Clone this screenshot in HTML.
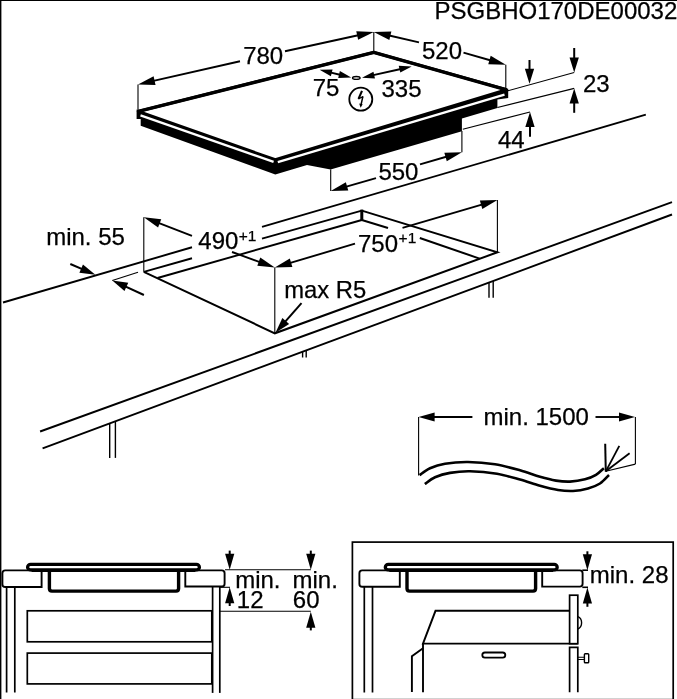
<!DOCTYPE html>
<html><head><meta charset="utf-8"><title>PSGBHO170DE00032</title>
<style>
html,body{margin:0;padding:0;background:#fff;}
svg{display:block;will-change:transform;}
text{font-family:"Liberation Sans",Arial,sans-serif;fill:#000;stroke:#000;stroke-width:0.25px;}
</style></head><body>
<svg width="677" height="699" viewBox="0 0 677 699">
<rect width="677" height="699" fill="#fff"/>
<line x1="0.7" y1="0" x2="0.7" y2="699" stroke="#000" stroke-width="1.4" stroke-linecap="butt"/>
<line x1="0" y1="0.5" x2="677" y2="0.5" stroke="#000" stroke-width="1.0" stroke-linecap="butt"/>
<text x="677.3" y="19.4" font-size="24" text-anchor="end" >PSGBHO170DE00032</text>
<polygon points="136.6,109.5 136.6,119 140.7,119 140.7,125.7 275.3,174.5 307,165 330.6,169.5 461.9,131.3 461.9,118.5 497.4,107.9 497.4,99.5 508.2,98 508.2,88.8 275.3,157" fill="#000" stroke="none" stroke-width="0" stroke-linejoin="miter"/>
<polygon points="138.3,111.3 373.8,52.3 506.6,89.7 275.3,159.7" fill="#fff" stroke="#000" stroke-width="2.9" stroke-linejoin="round"/>
<path d="M138.3,111.39999999999999 L373.8,52.449999999999996 L506.6,89.8" fill="none" stroke="#000" stroke-width="3.4" stroke-linecap="butt" stroke-linejoin="round"/>
<polyline points="140.5,115.4 273.6,161.9" fill="none" stroke="#fff" stroke-width="2.3"/><polyline points="277.8,162.2 504.5,94.6" fill="none" stroke="#fff" stroke-width="2.3"/>
<line x1="138" y1="84.4" x2="138" y2="110" stroke="#000" stroke-width="1.1" stroke-linecap="butt"/>
<line x1="373.8" y1="31.9" x2="373.8" y2="52" stroke="#000" stroke-width="1.1" stroke-linecap="butt"/>
<line x1="240" y1="61.2" x2="151.26" y2="81.38" stroke="#000" stroke-width="1.9" stroke-linecap="butt"/>
<polygon points="138,84.4 153.6,76.34 155.55,84.92" fill="#000" stroke="none" stroke-width="0" stroke-linejoin="miter"/>
<line x1="285" y1="51.2" x2="360.51" y2="34.79" stroke="#000" stroke-width="1.9" stroke-linecap="butt"/>
<polygon points="373.8,31.9 358.12,39.81 356.25,31.21" fill="#000" stroke="none" stroke-width="0" stroke-linejoin="miter"/>
<text x="263.2" y="64.1" font-size="24" text-anchor="middle" >780</text>
<line x1="505.8" y1="64.8" x2="505.8" y2="89" stroke="#000" stroke-width="1.1" stroke-linecap="butt"/>
<line x1="419" y1="42.4" x2="387.05" y2="34.98" stroke="#000" stroke-width="1.9" stroke-linecap="butt"/>
<polygon points="373.8,31.9 391.35,31.46 389.36,40.03" fill="#000" stroke="none" stroke-width="0" stroke-linejoin="miter"/>
<line x1="463.5" y1="52.6" x2="492.73" y2="61.03" stroke="#000" stroke-width="1.9" stroke-linecap="butt"/>
<polygon points="505.8,64.8 488.25,64.32 490.69,55.86" fill="#000" stroke="none" stroke-width="0" stroke-linejoin="miter"/>
<text x="442" y="58.6" font-size="24" text-anchor="middle" >520</text>
<ellipse cx="356.3" cy="77.9" rx="3.8" ry="1.4" fill="#eee" stroke="#000" stroke-width="1.3"/>
<line x1="330" y1="72.4" x2="341" y2="75.0" stroke="#000" stroke-width="1.9" stroke-linecap="butt"/>
<polygon points="319.6,69.8 332.57,69.38 330.91,76.18" fill="#000" stroke="none" stroke-width="0" stroke-linejoin="miter"/>
<polygon points="351.2,77.5 338.23,77.92 339.89,71.12" fill="#000" stroke="none" stroke-width="0" stroke-linejoin="miter"/>
<line x1="371" y1="75.6" x2="402" y2="68.8" stroke="#000" stroke-width="1.9" stroke-linecap="butt"/>
<polygon points="362,77.8 373.48,71.74 374.96,78.58" fill="#000" stroke="none" stroke-width="0" stroke-linejoin="miter"/>
<polygon points="411.7,66.4 400.3,72.62 398.73,65.79" fill="#000" stroke="none" stroke-width="0" stroke-linejoin="miter"/>
<text x="326" y="96.2" font-size="24" text-anchor="middle" >75</text>
<text x="401.5" y="96.8" font-size="24" text-anchor="middle" >335</text>
<circle cx="360.8" cy="99.2" r="11.5" fill="#fff" stroke="#000" stroke-width="1.8"/>
<line x1="362.0" y1="90.8" x2="358.5" y2="98.9" stroke="#000" stroke-width="2.1" stroke-linecap="butt"/>
<line x1="358.3" y1="98.8" x2="363.1" y2="96.7" stroke="#000" stroke-width="1.4" stroke-linecap="butt"/>
<line x1="362.9" y1="96.4" x2="361.1" y2="104.5" stroke="#000" stroke-width="1.5" stroke-linecap="butt"/>
<polygon points="360.6,107.8 359.2,103.4 362.7,104.2" fill="#000" stroke="none" stroke-width="0" stroke-linejoin="miter"/>
<line x1="330.7" y1="169.5" x2="330.7" y2="191" stroke="#000" stroke-width="1.1" stroke-linecap="butt"/>
<line x1="461.9" y1="131" x2="461.9" y2="152.2" stroke="#000" stroke-width="1.1" stroke-linecap="butt"/>
<line x1="376" y1="178.2" x2="343.79" y2="187.3" stroke="#000" stroke-width="1.9" stroke-linecap="butt"/>
<polygon points="330.7,191 345.86,182.14 348.26,190.61" fill="#000" stroke="none" stroke-width="0" stroke-linejoin="miter"/>
<line x1="420" y1="164.3" x2="448.83" y2="155.97" stroke="#000" stroke-width="1.9" stroke-linecap="butt"/>
<polygon points="461.9,152.2 446.79,161.14 444.35,152.69" fill="#000" stroke="none" stroke-width="0" stroke-linejoin="miter"/>
<text x="398.4" y="180.4" font-size="24" text-anchor="middle" >550</text>
<line x1="507" y1="91" x2="574.2" y2="72.5" stroke="#000" stroke-width="1.1" stroke-linecap="butt"/>
<line x1="497.4" y1="107.5" x2="574.2" y2="88.4" stroke="#000" stroke-width="1.1" stroke-linecap="butt"/>
<line x1="462.8" y1="129.3" x2="530" y2="112" stroke="#000" stroke-width="1.1" stroke-linecap="butt"/>
<line x1="529.5" y1="60" x2="529.5" y2="71.7" stroke="#000" stroke-width="2.0" stroke-linecap="butt"/>
<polygon points="529.5,83.7 524.85,68.7 534.15,68.7" fill="#000" stroke="none" stroke-width="0" stroke-linejoin="miter"/>
<line x1="574.2" y1="48" x2="574.2" y2="60.5" stroke="#000" stroke-width="2.0" stroke-linecap="butt"/>
<polygon points="574.2,72.5 569.55,57.5 578.85,57.5" fill="#000" stroke="none" stroke-width="0" stroke-linejoin="miter"/>
<line x1="574.2" y1="112.8" x2="574.2" y2="100.4" stroke="#000" stroke-width="2.0" stroke-linecap="butt"/>
<polygon points="574.2,88.4 578.85,103.4 569.55,103.4" fill="#000" stroke="none" stroke-width="0" stroke-linejoin="miter"/>
<line x1="530" y1="136.7" x2="530.0" y2="124.0" stroke="#000" stroke-width="2.0" stroke-linecap="butt"/>
<polygon points="530,112 534.65,127.0 525.35,127.0" fill="#000" stroke="none" stroke-width="0" stroke-linejoin="miter"/>
<text x="583" y="91.5" font-size="24" text-anchor="start" >23</text>
<text x="498" y="147.6" font-size="24" text-anchor="start" >44</text>
<line x1="3" y1="302.5" x2="192" y2="247.2742" stroke="#000" stroke-width="1.9" stroke-linecap="butt"/>
<line x1="262" y1="226.8202" x2="645.8" y2="114.7" stroke="#000" stroke-width="1.9" stroke-linecap="butt"/>
<line x1="40.1" y1="431.5" x2="672" y2="202.2" stroke="#000" stroke-width="1.9" stroke-linecap="butt"/>
<line x1="42.6" y1="448.3" x2="672" y2="214.5" stroke="#000" stroke-width="1.9" stroke-linecap="butt"/>
<line x1="109.7" y1="423.37235000000004" x2="109.7" y2="457.9" stroke="#000" stroke-width="1.4" stroke-linecap="butt"/>
<line x1="115.4" y1="421.2548" x2="115.4" y2="457.9" stroke="#000" stroke-width="1.4" stroke-linecap="butt"/>
<line x1="302.6" y1="351.71000000000004" x2="302.6" y2="357.5" stroke="#000" stroke-width="1.4" stroke-linecap="butt"/>
<line x1="306.2" y1="350.37260000000003" x2="306.2" y2="357.5" stroke="#000" stroke-width="1.4" stroke-linecap="butt"/>
<line x1="489" y1="282.4624" x2="489" y2="297.8" stroke="#000" stroke-width="1.4" stroke-linecap="butt"/>
<line x1="493.2" y1="280.9021" x2="493.2" y2="297.8" stroke="#000" stroke-width="1.4" stroke-linecap="butt"/>
<line x1="143.8" y1="271.8" x2="192" y2="258.27026" stroke="#000" stroke-width="1.9" stroke-linecap="butt"/>
<line x1="262" y1="238.62126" x2="361.8" y2="210.6" stroke="#000" stroke-width="1.9" stroke-linecap="butt"/>
<line x1="157.5" y1="278" x2="361.8" y2="220" stroke="#000" stroke-width="1.9" stroke-linecap="butt"/>
<line x1="361.8" y1="209.6" x2="361.8" y2="220.6" stroke="#000" stroke-width="3" stroke-linecap="butt"/>
<path d="M143.8,271.8 L274.8,333.3 L497.4,252.3 L361.8,210.6" fill="none" stroke="#000" stroke-width="2.0" stroke-linecap="butt" stroke-linejoin="miter"/>
<line x1="361.8" y1="220" x2="388" y2="228" stroke="#000" stroke-width="2.0" stroke-linecap="butt"/>
<line x1="419.8" y1="238.0" x2="479.6" y2="258.6" stroke="#000" stroke-width="2.0" stroke-linecap="butt"/>
<line x1="143.8" y1="217.2" x2="143.8" y2="271.8" stroke="#000" stroke-width="1.1" stroke-linecap="butt"/>
<line x1="274.8" y1="267.4" x2="274.8" y2="333.3" stroke="#000" stroke-width="1.1" stroke-linecap="butt"/>
<line x1="497.4" y1="200" x2="497.4" y2="252.3" stroke="#000" stroke-width="1.1" stroke-linecap="butt"/>
<line x1="192" y1="235.8" x2="156.49" y2="222.1" stroke="#000" stroke-width="1.9" stroke-linecap="butt"/>
<polygon points="143.8,217.2 161.24,219.22 158.08,227.43" fill="#000" stroke="none" stroke-width="0" stroke-linejoin="miter"/>
<line x1="232" y1="252" x2="262.0" y2="262.8" stroke="#000" stroke-width="1.9" stroke-linecap="butt"/>
<polygon points="274.8,267.4 257.31,265.78 260.29,257.5" fill="#000" stroke="none" stroke-width="0" stroke-linejoin="miter"/>
<text x="198.3" y="249" font-size="24" text-anchor="start" >490</text>
<text x="238.7" y="241.3" font-size="15.5" text-anchor="start" >+1</text>
<line x1="355" y1="243.6" x2="287.83" y2="263.7" stroke="#000" stroke-width="1.9" stroke-linecap="butt"/>
<polygon points="274.8,267.6 289.82,258.51 292.35,266.94" fill="#000" stroke="none" stroke-width="0" stroke-linejoin="miter"/>
<line x1="402.5" y1="227.9" x2="484.35" y2="203.84" stroke="#000" stroke-width="1.9" stroke-linecap="butt"/>
<polygon points="497.4,200 482.33,209.02 479.85,200.57" fill="#000" stroke="none" stroke-width="0" stroke-linejoin="miter"/>
<text x="358" y="251.7" font-size="24" text-anchor="start" >750</text>
<text x="398.6" y="243" font-size="15.5" text-anchor="start" >+1</text>
<text x="46.2" y="244.7" font-size="24" text-anchor="start" >min. 55</text>
<line x1="70.3" y1="264" x2="84.01" y2="269.9" stroke="#000" stroke-width="2.0" stroke-linecap="butt"/>
<polygon points="95.4,274.8 79.38,272.81 82.94,264.54" fill="#000" stroke="none" stroke-width="0" stroke-linejoin="miter"/>
<line x1="143.9" y1="295" x2="123.56" y2="285.6" stroke="#000" stroke-width="2.0" stroke-linecap="butt"/>
<polygon points="112.3,280.4 128.26,282.82 124.48,290.99" fill="#000" stroke="none" stroke-width="0" stroke-linejoin="miter"/>
<line x1="112.3" y1="280.4" x2="138" y2="272.3" stroke="#000" stroke-width="1.1" stroke-linecap="butt"/>
<text x="284.3" y="298.3" font-size="23.8" text-anchor="start" >max R5</text>
<line x1="301.5" y1="303.2" x2="283.7" y2="323.4" stroke="#000" stroke-width="2.0" stroke-linecap="butt"/>
<polygon points="275.5,332.7 282.37,318.1 289.12,324.05" fill="#000" stroke="none" stroke-width="0" stroke-linejoin="miter"/>
<line x1="418.6" y1="417" x2="418.6" y2="475.5" stroke="#000" stroke-width="1.1" stroke-linecap="butt"/>
<line x1="635.4" y1="417" x2="635.4" y2="464.1" stroke="#000" stroke-width="1.1" stroke-linecap="butt"/>
<line x1="472.4" y1="417" x2="431.4" y2="417.0" stroke="#000" stroke-width="1.9" stroke-linecap="butt"/>
<polygon points="418.6,417 434.6,412.4 434.6,421.6" fill="#000" stroke="none" stroke-width="0" stroke-linejoin="miter"/>
<line x1="595.5" y1="417" x2="622.2" y2="417.0" stroke="#000" stroke-width="1.9" stroke-linecap="butt"/>
<polygon points="635,417 619.0,421.6 619.0,412.4" fill="#000" stroke="none" stroke-width="0" stroke-linejoin="miter"/>
<text x="483.5" y="424.8" font-size="24" text-anchor="start" >min. 1500</text>
<path d="M419.6,475.2 C421.33,474.05 425.77,470.22 430,468.3 C434.23,466.38 438.67,464.75 445,463.7 C451.33,462.65 459.67,461.90 468,462 C476.33,462.10 486.33,462.92 495,464.3 C503.67,465.68 512.50,468.22 520,470.3 C527.50,472.38 534.00,475.08 540,476.8 C546.00,478.52 551.00,479.80 556,480.6 C561.00,481.40 565.17,481.82 570,481.6 C574.83,481.38 580.67,480.43 585,479.3 C589.33,478.17 592.85,476.65 596,474.8 C599.15,472.95 602.58,469.30 603.9,468.2" fill="none" stroke="#000" stroke-width="2.6" stroke-linecap="butt" stroke-linejoin="miter"/>
<path d="M424.8,484 C426.50,482.88 430.80,479.15 435,477.3 C439.20,475.45 444.17,473.90 450,472.9 C455.83,471.90 462.17,471.15 470,471.3 C477.83,471.45 488.67,472.42 497,473.8 C505.33,475.18 512.83,477.60 520,479.6 C527.17,481.60 533.67,484.07 540,485.8 C546.33,487.53 552.50,489.13 558,490 C563.50,490.87 568.00,491.25 573,491 C578.00,490.75 583.50,489.75 588,488.5 C592.50,487.25 596.50,485.75 600,483.5 C603.50,481.25 607.50,476.42 609,475" fill="none" stroke="#000" stroke-width="2.6" stroke-linecap="butt" stroke-linejoin="miter"/>
<line x1="605.8" y1="471.8" x2="605.2" y2="443.8" stroke="#000" stroke-width="2.0" stroke-linecap="butt"/>
<line x1="605.8" y1="471.3" x2="619.3" y2="445.9" stroke="#000" stroke-width="1.8" stroke-linecap="butt"/>
<line x1="605.8" y1="471.3" x2="629.6" y2="453.3" stroke="#000" stroke-width="1.8" stroke-linecap="butt"/>
<line x1="605.8" y1="471.3" x2="635.4" y2="464.1" stroke="#000" stroke-width="1.1" stroke-linecap="butt"/>
<path d="M41.6,570.4 L5.199999999999999,570.4 Q2.4,570.4 2.4,573.1999999999999 L2.4,584.2 Q2.4,587 5.199999999999999,587 L41.6,587 Z" fill="#fff" stroke="#000" stroke-width="1.9" stroke-linecap="butt" stroke-linejoin="miter"/>
<path d="M185.3,570.4 L221.79999999999998,570.4 Q224.6,570.4 224.6,573.1999999999999 L224.6,583.7 Q224.6,586.5 221.79999999999998,586.5 L185.3,586.5 Z" fill="#fff" stroke="#000" stroke-width="1.9" stroke-linecap="butt" stroke-linejoin="miter"/>
<path d="M49.4,571 L49.4,588.6 Q49.4,591.1 51.9,591.1 L176.1,591.1 Q178.6,591.1 178.6,588.6 L178.6,571" fill="none" stroke="#000" stroke-width="3.4" stroke-linecap="butt" stroke-linejoin="miter"/>
<rect x="27.6" y="564.4" width="171.8" height="5.5" rx="3" ry="2.75" fill="#fff" stroke="#000" stroke-width="3.3"/>
<line x1="31.6" y1="570.6" x2="195.4" y2="570.6" stroke="#000" stroke-width="2.6" stroke-linecap="butt"/>
<line x1="6.6" y1="587" x2="6.6" y2="692.5" stroke="#000" stroke-width="1.7" stroke-linecap="butt"/>
<line x1="14.8" y1="587" x2="14.8" y2="692.5" stroke="#000" stroke-width="1.7" stroke-linecap="butt"/>
<line x1="212.6" y1="586.7" x2="212.6" y2="692.9" stroke="#000" stroke-width="1.7" stroke-linecap="butt"/>
<line x1="219.8" y1="586.7" x2="219.8" y2="692.9" stroke="#000" stroke-width="1.7" stroke-linecap="butt"/>
<rect x="27.3" y="610.8" width="184.5" height="31" fill="none" stroke="#000" stroke-width="1.7"/>
<rect x="27.3" y="653.1" width="184.5" height="30.8" fill="none" stroke="#000" stroke-width="1.7"/>
<line x1="225" y1="569.8" x2="310.8" y2="569.8" stroke="#000" stroke-width="1.1" stroke-linecap="butt"/>
<line x1="219" y1="611.3" x2="310.8" y2="611.3" stroke="#000" stroke-width="1.1" stroke-linecap="butt"/>
<line x1="220" y1="587.3" x2="230" y2="587.3" stroke="#000" stroke-width="1.1" stroke-linecap="butt"/>
<line x1="229.7" y1="550.6" x2="229.7" y2="557.0" stroke="#000" stroke-width="2.0" stroke-linecap="butt"/>
<polygon points="229.7,569.8 225.1,553.8 234.3,553.8" fill="#000" stroke="none" stroke-width="0" stroke-linejoin="miter"/>
<line x1="229.7" y1="606" x2="229.7" y2="600.1" stroke="#000" stroke-width="2.0" stroke-linecap="butt"/>
<polygon points="229.7,587.3 234.3,603.3 225.1,603.3" fill="#000" stroke="none" stroke-width="0" stroke-linejoin="miter"/>
<line x1="310.8" y1="550.6" x2="310.8" y2="557.0" stroke="#000" stroke-width="2.0" stroke-linecap="butt"/>
<polygon points="310.8,569.8 306.2,553.8 315.4,553.8" fill="#000" stroke="none" stroke-width="0" stroke-linejoin="miter"/>
<line x1="310.8" y1="630.4" x2="310.8" y2="624.6" stroke="#000" stroke-width="2.0" stroke-linecap="butt"/>
<polygon points="310.8,611.8 315.4,627.8 306.2,627.8" fill="#000" stroke="none" stroke-width="0" stroke-linejoin="miter"/>
<text x="235.2" y="587.9" font-size="24" text-anchor="start" >min.</text>
<text x="236.8" y="607.8" font-size="24" text-anchor="start" >12</text>
<text x="292.5" y="587.9" font-size="24" text-anchor="start" >min.</text>
<text x="292.8" y="607.8" font-size="24" text-anchor="start" >60</text>
<rect x="352.4" y="542.1" width="320.8" height="157.57" fill="none" stroke="#000" stroke-width="1.7"/>
<path d="M399.8,570.4 L362.2,570.4 Q359.4,570.4 359.4,573.1999999999999 L359.4,583.9000000000001 Q359.4,586.7 362.2,586.7 L399.8,586.7 Z" fill="#fff" stroke="#000" stroke-width="1.9" stroke-linecap="butt" stroke-linejoin="miter"/>
<path d="M542.2,570.4 L579.8000000000001,570.4 Q582.6,570.4 582.6,573.1999999999999 L582.6,583.8000000000001 Q582.6,586.6 579.8000000000001,586.6 L542.2,586.6 Z" fill="#fff" stroke="#000" stroke-width="1.9" stroke-linecap="butt" stroke-linejoin="miter"/>
<path d="M407,571 L407,588.6 Q407,591.1 409.5,591.1 L533.1,591.1 Q535.6,591.1 535.6,588.6 L535.6,571" fill="none" stroke="#000" stroke-width="3.4" stroke-linecap="butt" stroke-linejoin="miter"/>
<rect x="385.3" y="564.4" width="171.90000000000003" height="5.5" rx="3" ry="2.75" fill="#fff" stroke="#000" stroke-width="3.3"/>
<line x1="389.3" y1="570.6" x2="553.2" y2="570.6" stroke="#000" stroke-width="2.6" stroke-linecap="butt"/>
<line x1="364.3" y1="586.7" x2="364.3" y2="692.5" stroke="#000" stroke-width="1.7" stroke-linecap="butt"/>
<line x1="372.5" y1="586.7" x2="372.5" y2="692.5" stroke="#000" stroke-width="1.7" stroke-linecap="butt"/>
<path d="M569.6,610.8 L435.5,610.8 L423,643.6 L577.8,643.6" fill="none" stroke="#000" stroke-width="1.9" stroke-linecap="butt" stroke-linejoin="miter"/>
<line x1="423" y1="643.6" x2="423" y2="692.3" stroke="#000" stroke-width="1.9" stroke-linecap="butt"/>
<path d="M423,648.2 L411.9,656.3 L411.9,692" fill="none" stroke="#000" stroke-width="1.9" stroke-linecap="butt" stroke-linejoin="miter"/>
<rect x="482.3" y="652.5" width="23" height="5.2" rx="2.6" fill="#fff" stroke="#000" stroke-width="1.8"/>
<rect x="569.6" y="595.2" width="8.2" height="48.5" fill="#fff" stroke="#000" stroke-width="1.7"/>
<path d="M569.6,692.3 L569.6,647.4 L577.8,647.4 L577.8,692.3" fill="none" stroke="#000" stroke-width="1.7" stroke-linecap="butt" stroke-linejoin="miter"/>
<path d="M577.8,616.6 Q581.6,618 581.6,622.8 Q581.6,627.6 577.8,629" fill="none" stroke="#000" stroke-width="1.4" stroke-linecap="butt" stroke-linejoin="miter"/>
<path d="M577.8,657.3 L584.3,657.3 M577.8,659.5 L584.3,659.5" fill="none" stroke="#000" stroke-width="1.1" stroke-linecap="butt" stroke-linejoin="miter"/>
<rect x="584.4" y="653.8" width="4.3" height="9" rx="0.8" fill="#fff" stroke="#000" stroke-width="1.4"/>
<line x1="582.3" y1="570.2" x2="588" y2="570.2" stroke="#000" stroke-width="1.6" stroke-linecap="butt"/>
<line x1="582.3" y1="587.3" x2="588" y2="587.3" stroke="#000" stroke-width="1.6" stroke-linecap="butt"/>
<line x1="587.4" y1="551.3" x2="587.4" y2="557.4" stroke="#000" stroke-width="2.0" stroke-linecap="butt"/>
<polygon points="587.4,570.2 582.8,554.2 592.0,554.2" fill="#000" stroke="none" stroke-width="0" stroke-linejoin="miter"/>
<line x1="587.4" y1="606.8" x2="587.4" y2="600.4" stroke="#000" stroke-width="2.0" stroke-linecap="butt"/>
<polygon points="587.4,587.6 592.0,603.6 582.8,603.6" fill="#000" stroke="none" stroke-width="0" stroke-linejoin="miter"/>
<text x="589.8" y="583.2" font-size="24" text-anchor="start" >min. 28</text>
</svg>
</body></html>
